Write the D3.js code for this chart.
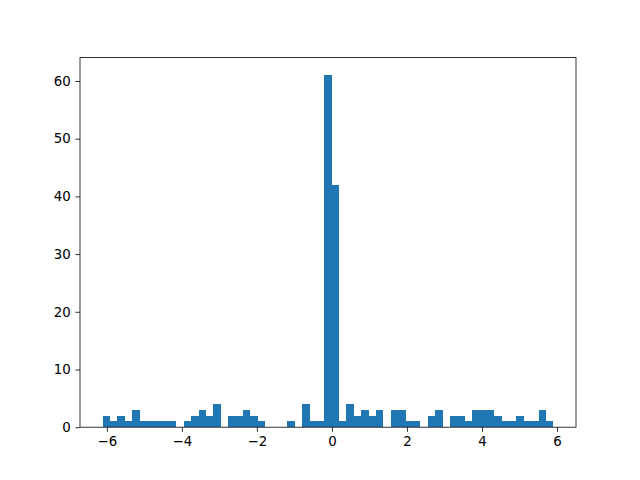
<!DOCTYPE html>
<html>
<head>
<meta charset="utf-8">
<script src="https://cdn.jsdelivr.net/npm/d3@7"></script>
<style>
  body { margin: 0; background: #fff; }
  svg { display: block; }
  .tick text { font-family: "DejaVu Sans", sans-serif; font-size: 13.33px; fill: #000; }
</style>
</head>
<body>
<div id="chart"></div>
<script>
// histogram data (61 bins)
const binLo = -6.115;
const binHi = 5.905;
const counts = [
  2, 1, 2, 1, 3, 1, 1, 1, 1, 1,
  0, 1, 2, 3, 2, 4, 0, 2, 2, 3,
  2, 1, 0, 0, 0, 1, 0, 4, 1, 1,
  61, 42, 1, 4, 2, 3, 2, 3, 0, 3,
  3, 1, 1, 0, 2, 3, 0, 2, 2, 1,
  3, 3, 3, 2, 1, 1, 2, 1, 1, 3, 1
];
const xTicks = [-6, -4, -2, 0, 2, 4, 6];
const yTicks = [0, 10, 20, 30, 40, 50, 60];

const W = 640, H = 480;
const margin = { top: 57.6, right: 64, bottom: 52.8, left: 80 };
const width = W - margin.left - margin.right;
const height = H - margin.top - margin.bottom;

const svg = d3.select("#chart")
    .append("svg")
    .attr("width", W)
    .attr("height", H);

const g = svg.append("g")
    .attr("transform", `translate(${margin.left},${margin.top})`);

// bins from the edges
const step = (binHi - binLo) / counts.length;
const bins = counts.map((c, i) => ({ x0: binLo + i * step, x1: binLo + (i + 1) * step, n: c }));

// matplotlib-style 5% margins
const pad = (binHi - binLo) * 0.05;
const x = d3.scaleLinear()
    .domain([binLo - pad, binHi + pad])
    .range([0, width]);

const y = d3.scaleLinear()
    .domain([0, d3.max(counts) * 1.05])
    .range([height, 0]);

// crisp edges so neighbouring bars don't show seams
g.selectAll(".bar")
    .data(bins.filter(d => d.n > 0))
    .enter().append("rect")
    .attr("class", "bar")
    .attr("x", d => x(d.x0))
    .attr("y", d => y(d.n))
    .attr("width", d => x(d.x1) - x(d.x0))
    .attr("height", d => y(0) - y(d.n))
    .attr("shape-rendering", "crispEdges")
    .style("fill", "#1f77b4");

const fmt = d => (d < 0 ? "\u2212" + Math.abs(d) : String(d));

// axes
const xAxis = g.append("g")
    .attr("transform", `translate(0,${height})`)
    .call(d3.axisBottom(x).tickValues(xTicks).tickFormat(fmt).tickSize(4.67).tickPadding(4.67));

const yAxis = g.append("g")
    .call(d3.axisLeft(y).tickValues(yTicks).tickFormat(fmt).tickSize(4.67).tickPadding(4.67));

[xAxis, yAxis].forEach(a => {
    a.select(".domain").remove();
    a.selectAll(".tick line").attr("stroke", "#000").attr("stroke-width", 0.8);
});

// frame
g.append("rect")
    .attr("width", width)
    .attr("height", height)
    .attr("fill", "none")
    .attr("stroke", "#000")
    .attr("stroke-width", 0.8);
</script>
</body>
</html>
